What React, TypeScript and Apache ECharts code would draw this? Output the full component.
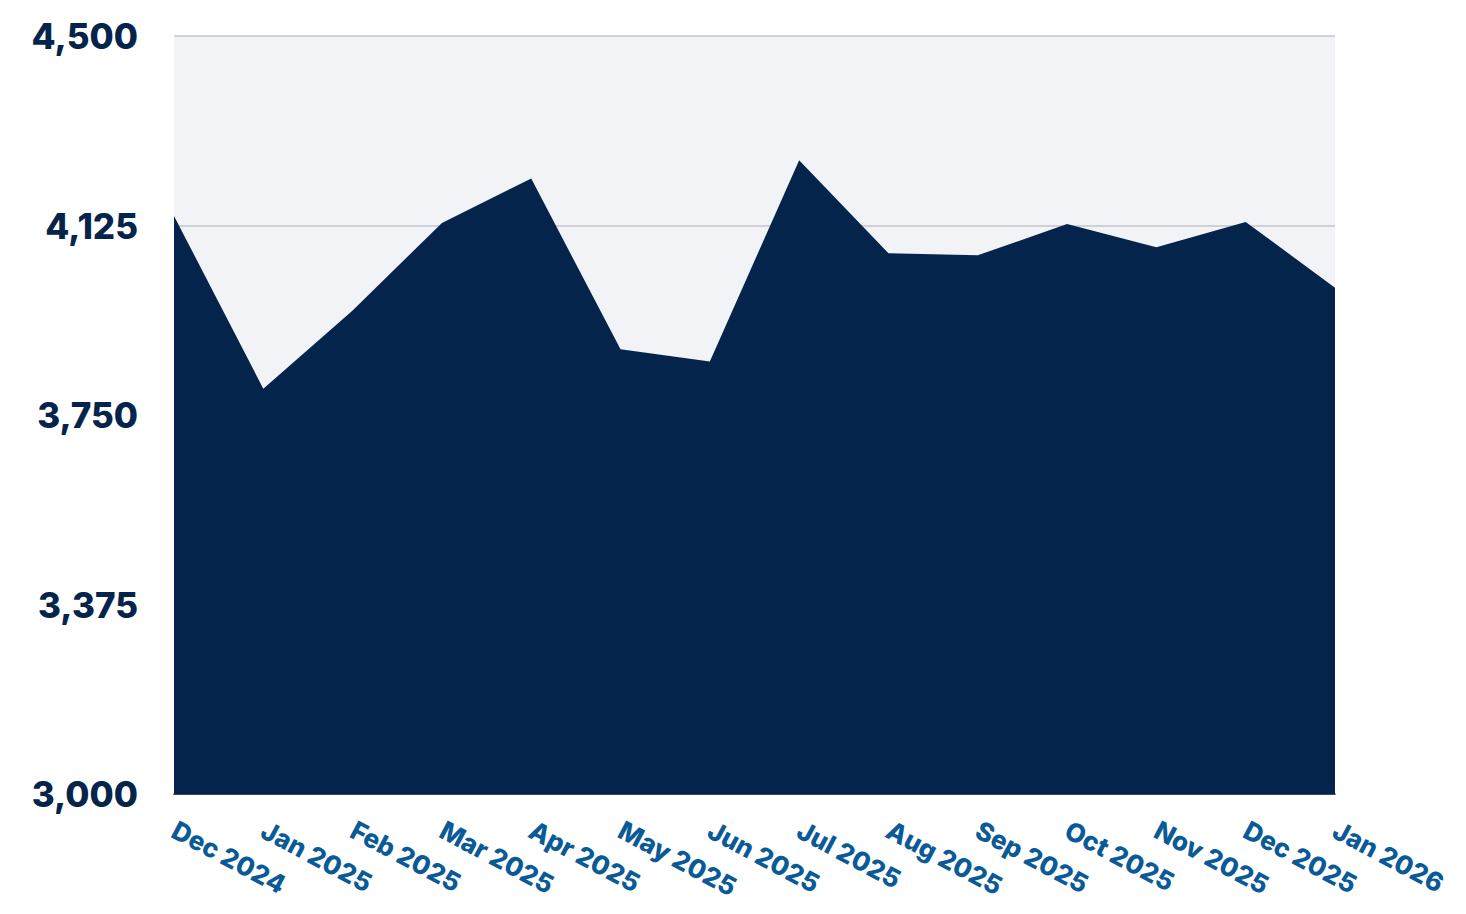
import React, { useEffect, useRef } from "react";
import * as echarts from "echarts";

const categories = [
  "Dec 2024", "Jan 2025", "Feb 2025", "Mar 2025", "Apr 2025", "May 2025", "Jun 2025",
  "Jul 2025", "Aug 2025", "Sep 2025", "Oct 2025", "Nov 2025", "Dec 2025", "Jan 2026",
];
const values = [4144, 3802, 3957, 4130, 4218, 3880, 3856, 4254, 4070, 4066, 4128, 4082, 4132, 4002];
const yMin = 3000;
const yMax = 4500;
const yInterval = 375;

const NAVY = "#05244b";
const BLUE = "#0a5a98";
const FONT = "Inter, 'Open Sans', sans-serif";

export default function App() {
  const ref = useRef<HTMLDivElement>(null);
  useEffect(() => {
    if (!ref.current) return;
    const chart = echarts.init(ref.current, undefined, { renderer: "svg" });
    chart.setOption({
      animation: false,
      backgroundColor: "#ffffff",
      grid: {
        left: 174,
        right: 131,
        top: 36,
        bottom: 120,
        show: true,
        backgroundColor: "#f2f3f6",
        borderWidth: 0,
        containLabel: false,
      },
      xAxis: {
        type: "category",
        data: categories,
        boundaryGap: false,
        axisLine: { show: true, lineStyle: { color: "#1b1b1b", width: 1.5 } },
        axisTick: { show: false },
        splitLine: { show: false },
        axisLabel: {
          rotate: -28,
          margin: 34,
          interval: 0,
          color: BLUE,
          fontFamily: FONT,
          fontWeight: 800,
          fontSize: 26,
        },
      },
      yAxis: {
        type: "value",
        min: yMin,
        max: yMax,
        interval: yInterval,
        axisLine: { show: false },
        axisTick: { show: false },
        splitLine: { show: true, lineStyle: { color: "#c3c6cd", width: 1.5 } },
        axisLabel: {
          margin: 36,
          color: NAVY,
          fontFamily: FONT,
          fontWeight: 800,
          fontSize: 35,
          formatter: (v: number) => v.toLocaleString("en-US"),
        },
      },
      series: [
        {
          type: "line",
          data: values,
          symbol: "none",
          lineStyle: { width: 0, color: NAVY },
          itemStyle: { color: NAVY },
          areaStyle: { color: NAVY, opacity: 1 },
        },
      ],
    });
    return () => chart.dispose();
  }, []);
  return (
    <div
      ref={ref}
      style={{ position: "fixed", left: 0, top: 0, width: 1466, height: 914 }}
    />
  );
}
